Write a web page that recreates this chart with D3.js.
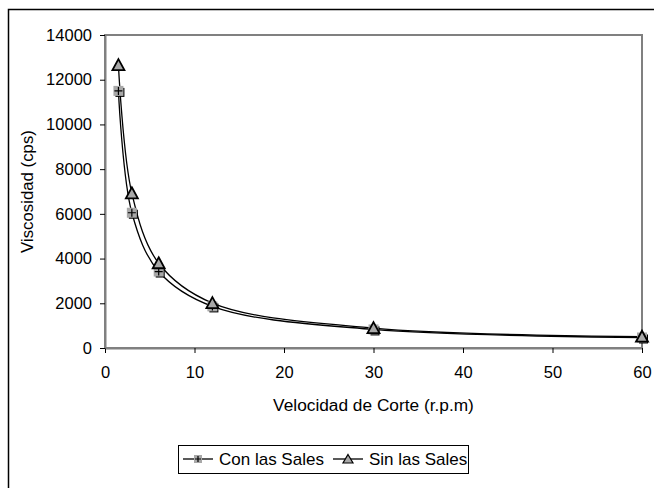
<!DOCTYPE html>
<html>
<head>
<meta charset="utf-8">
<script src="https://cdn.jsdelivr.net/npm/d3@7"></script>
<style>
  body { margin: 0; background: #fff; }
  text { font-family: "Liberation Sans", Arial, sans-serif; fill: #000; }
</style>
</head>
<body>
<div id="chart"></div>
<script>
// velocidad de corte (r.p.m)
let rpm        = [1.5, 3, 6, 12, 30, 60];
let conSales   = [11500, 6050, 3420, 1860, 830, 470];
let sinSales   = [12650, 6920, 3790, 2010, 890, 505];
let xTicks     = [0, 10, 20, 30, 40, 50, 60];
let yTicks     = [0, 2000, 4000, 6000, 8000, 10000, 12000, 14000];
let seriesNames = ['Con las Sales', 'Sin las Sales'];

let canvasWidth  = 654;
let canvasHeight = 488;
let margin = { top: 35, right: 12, bottom: 140, left: 105 };
let width  = canvasWidth - margin.left - margin.right;
let height = canvasHeight - margin.top - margin.bottom;

let svg = d3.select('#chart').append('svg')
    .attr('width', canvasWidth)
    .attr('height', canvasHeight);

// marco exterior
svg.append('rect')
    .attr('x', 8.5).attr('y', 9.5)
    .attr('width', 700).attr('height', 600)
    .attr('fill', 'none')
    .attr('stroke', '#000')
    .attr('stroke-width', 1.5);

let g = svg.append('g')
    .attr('transform', 'translate(' + margin.left + ',' + margin.top + ')');

let x = d3.scaleLinear().domain([0, 60]).range([0, width]);
let y = d3.scaleLinear().domain([0, 14000]).range([height, 0]);

// borde del área de trazado
g.append('rect')
    .attr('width', width).attr('height', height)
    .attr('fill', 'none')
    .attr('stroke', '#808080')
    .attr('stroke-width', 2);

let xAxis = g.append('g')
    .attr('transform', 'translate(0,' + height + ')')
    .call(d3.axisBottom(x).tickValues(xTicks).tickSize(5).tickSizeOuter(0).tickPadding(13));

let yAxis = g.append('g')
    .call(d3.axisLeft(y).tickValues(yTicks).tickSize(5).tickSizeOuter(0).tickPadding(8).tickFormat(d3.format('d')));

[xAxis, yAxis].forEach((a) => {
  a.select('.domain').attr('stroke', '#808080').attr('stroke-width', 2);
  a.selectAll('.tick line').attr('stroke', '#000');
  a.selectAll('.tick text')
      .style('font-family', '"Liberation Sans", Arial, sans-serif')
      .style('font-size', '16.5px')
      .attr('fill', '#000');
});

// títulos de ejes
svg.append('text')
    .attr('x', margin.left + width / 2)
    .attr('y', 411)
    .attr('text-anchor', 'middle')
    .style('font-size', '17.3px')
    .text('Velocidad de Corte (r.p.m)');

svg.append('text')
    .attr('transform', 'translate(33,' + (margin.top + height / 2) + ') rotate(-90)')
    .attr('text-anchor', 'middle')
    .style('font-size', '16.8px')
    .text('Viscosidad (cps)');

let line = d3.line()
    .x((d) => x(d[0]))
    .y((d) => y(d[1]))
    .curve(d3.curveCatmullRom.alpha(0.5));

let series = [
  rpm.map((r, i) => [r, conSales[i]]),
  rpm.map((r, i) => [r, sinSales[i]])
];

series.forEach((s) => {
  g.append('path')
      .datum(s)
      .attr('d', line)
      .attr('fill', 'none')
      .attr('stroke', '#000')
      .attr('stroke-width', 1.3);
});

function squareMarker(sel) {
  sel.append('rect').attr('x', -3).attr('y', -3).attr('width', 9).attr('height', 9).attr('fill', '#000');
  sel.append('rect').attr('x', -5).attr('y', -5).attr('width', 10).attr('height', 10).attr('fill', '#a8a8a8');
  sel.append('path').attr('d', 'M-4,0H4M0,-4V4').attr('stroke', '#000').attr('stroke-width', 1.2);
}

function triangleMarker(sel) {
  sel.append('path')
      .attr('d', 'M0,-6L6,5H-6Z')
      .attr('fill', '#a8a8a8')
      .attr('stroke', '#000')
      .attr('stroke-width', 1.8)
      .attr('stroke-linejoin', 'miter');
}

g.selectAll('.m-con')
    .data(series[0])
  .enter().append('g')
    .attr('class', 'm-con')
    .attr('transform', (d) => 'translate(' + x(d[0]) + ',' + y(d[1]) + ')')
    .call(squareMarker);

g.selectAll('.m-sin')
    .data(series[1])
  .enter().append('g')
    .attr('class', 'm-sin')
    .attr('transform', (d) => 'translate(' + x(d[0]) + ',' + y(d[1]) + ')')
    .call(triangleMarker);

// leyenda
let legend = svg.append('g').attr('transform', 'translate(178,445)');
legend.append('rect')
    .attr('x', 0.5).attr('y', 0.5)
    .attr('width', 290).attr('height', 28)
    .attr('fill', '#fff')
    .attr('stroke', '#000')
    .attr('stroke-width', 1);

let items = [
  { name: seriesNames[0], x: 5, marker: squareMarker },
  { name: seriesNames[1], x: 155, marker: triangleMarker }
];

items.forEach((it) => {
  let li = legend.append('g').attr('transform', 'translate(' + it.x + ',14)');
  li.append('line').attr('x1', 0).attr('x2', 30).attr('stroke', '#000').attr('stroke-width', 1.3);
  li.append('g').attr('transform', 'translate(15,0)').call(it.marker === squareMarker ? (s) => {
    s.append('rect').attr('x', -4).attr('y', -4).attr('width', 8).attr('height', 8).attr('fill', '#a8a8a8');
    s.append('path').attr('d', 'M-3,0H3M0,-3V3').attr('stroke', '#000').attr('stroke-width', 1.2);
  } : (s) => {
    s.append('path').attr('d', 'M0,-4.5L5,4H-5Z').attr('fill', '#a8a8a8').attr('stroke', '#000').attr('stroke-width', 1.2);
  });
  li.append('text')
      .attr('x', 36)
      .attr('y', 6)
      .style('font-size', '17px')
      .text(it.name);
});
</script>
</body>
</html>
